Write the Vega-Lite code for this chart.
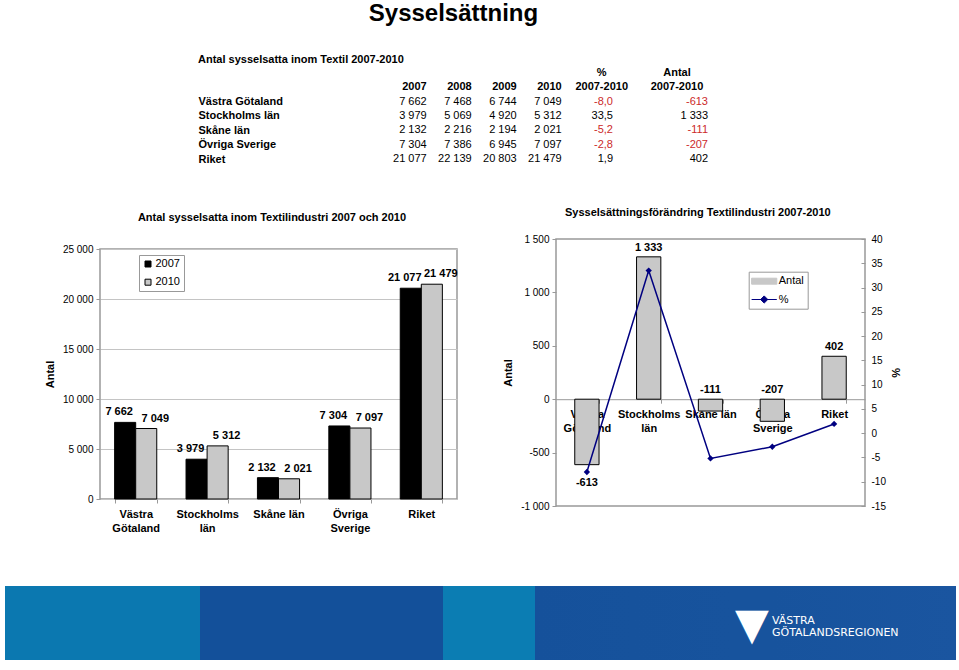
{
  "$schema": "https://vega.github.io/schema/vega-lite/v6.json",
  "background": "white",
  "padding": {"left": 5, "top": 2, "right": 0, "bottom": 0},
  "config": {
    "font": "Liberation Sans",
    "locale": {"number": {"decimal": ",", "thousands": "\u00a0", "grouping": [3], "currency": ["", " kr"], "minus": "-"}},
    "view": {"stroke": null},
    "axis": {"labelColor": "black", "titleColor": "black", "labelFont": "Liberation Sans", "titleFont": "Liberation Sans", "domainColor": "#999999", "tickColor": "#999999", "gridColor": "#c4c4c4"},
    "legend": {"labelColor": "black", "labelFont": "Liberation Sans"},
    "title": {"color": "black", "font": "Liberation Sans"}
  },
  "datasets": {
    "regions": [
      {"region": "Västra Götaland", "2007": 7662, "2008": 7468, "2009": 6744, "2010": 7049, "pct": -8.0, "antal": -613},
      {"region": "Stockholms län", "2007": 3979, "2008": 5069, "2009": 4920, "2010": 5312, "pct": 33.5, "antal": 1333},
      {"region": "Skåne län", "2007": 2132, "2008": 2216, "2009": 2194, "2010": 2021, "pct": -5.2, "antal": -111},
      {"region": "Övriga Sverige", "2007": 7304, "2008": 7386, "2009": 6945, "2010": 7097, "pct": -2.8, "antal": -207},
      {"region": "Riket", "2007": 21077, "2008": 22139, "2009": 20803, "2010": 21479, "pct": 1.9, "antal": 402}
    ]
  },
  "title": {"text": "Sysselsättning", "fontSize": 24, "fontWeight": "bold", "anchor": "middle", "dx": -27, "baseline": "alphabetic", "offset": 9},
  "columns": 1,
  "align": "none",
  "spacing": 5,
  "resolve": {"scale": {"fill": "independent", "color": "independent"}, "legend": {"fill": "independent", "color": "independent"}},
  "concat": [
    {
      "width": 951,
      "height": 134.7,
      "title": {"text": "Antal sysselsatta inom Textil 2007-2010", "anchor": "start", "frame": "group", "dx": 193, "offset": -9, "fontSize": 11, "fontWeight": "bold", "baseline": "alphabetic"},
      "layer": [
        {
          "data": {"name": "regions"},
          "transform": [{"fold": ["2007", "2008", "2009", "2010"], "as": ["key", "value"]}],
          "mark": {"type": "text", "align": "right", "baseline": "middle", "fontSize": 11},
          "encoding": {
            "x": {"field": "key", "type": "nominal", "scale": {"type": "point", "padding": 0, "domain": ["2007", "2008", "2009", "2010", "pct", "antal"], "range": [421.7, 646.7]}, "axis": null},
            "y": {"field": "region", "type": "nominal", "scale": {"type": "point", "padding": 0, "domain": ["h1", "h2", "Västra Götaland", "Stockholms län", "Skåne län", "Övriga Sverige", "Riket"], "range": [7.7, 94.1]},
              "axis": {"orient": "left", "offset": -193, "labelAlign": "left", "labelPadding": 0, "ticks": false, "domain": false, "title": null, "labelFontSize": 11, "labelFontWeight": "bold", "labelExpr": "datum.value == 'h1' || datum.value == 'h2' ? '' : datum.value"}},
            "text": {"field": "value", "type": "quantitative", "format": ",.0f"}
          }
        },
        {
          "data": {"name": "regions"},
          "mark": {"type": "text", "align": "right", "baseline": "middle", "fontSize": 11, "dx": 6.3},
          "encoding": {
            "x": {"datum": "pct", "type": "nominal"},
            "y": {"field": "region", "type": "nominal"},
            "text": {"field": "pct", "type": "quantitative", "format": ".1f"},
            "color": {"condition": {"test": "datum.pct < 0", "value": "#cc2a2a"}, "value": "black"}
          }
        },
        {
          "data": {"name": "regions"},
          "mark": {"type": "text", "align": "right", "baseline": "middle", "fontSize": 11, "dx": 56.3},
          "encoding": {
            "x": {"datum": "antal", "type": "nominal"},
            "y": {"field": "region", "type": "nominal"},
            "text": {"field": "antal", "type": "quantitative", "format": ",.0f"},
            "color": {"condition": {"test": "datum.antal < 0", "value": "#cc2a2a"}, "value": "black"}
          }
        },
        {
          "data": {"values": [{"row": "h2", "col": "2007", "label": "2007"}, {"row": "h2", "col": "2008", "label": "2008"}, {"row": "h2", "col": "2009", "label": "2009"}, {"row": "h2", "col": "2010", "label": "2010"}]},
          "mark": {"type": "text", "align": "right", "baseline": "middle", "fontSize": 11, "fontWeight": "bold"},
          "encoding": {
            "x": {"field": "col", "type": "nominal"},
            "y": {"field": "row", "type": "nominal"},
            "text": {"field": "label"}
          }
        },
        {
          "data": {"values": [{"row": "h1", "col": "pct", "label": "%"}, {"row": "h2", "col": "pct", "label": "2007-2010"}]},
          "mark": {"type": "text", "align": "center", "baseline": "middle", "fontSize": 11, "fontWeight": "bold", "dx": -5},
          "encoding": {
            "x": {"field": "col", "type": "nominal"},
            "y": {"field": "row", "type": "nominal"},
            "text": {"field": "label"}
          }
        },
        {
          "data": {"values": [{"row": "h1", "col": "antal", "label": "Antal"}, {"row": "h2", "col": "antal", "label": "2007-2010"}]},
          "mark": {"type": "text", "align": "center", "baseline": "middle", "fontSize": 11, "fontWeight": "bold", "dx": 25.3},
          "encoding": {
            "x": {"field": "col", "type": "nominal"},
            "y": {"field": "row", "type": "nominal"},
            "text": {"field": "label"}
          }
        }
      ]
    },
    {
      "align": "none",
      "spacing": 0,
      "resolve": {"scale": {"fill": "independent", "color": "independent"}, "legend": {"fill": "independent", "color": "independent"}},
      "concat": [
        {"width": 38, "height": 1, "data": {"values": []}, "mark": "point"},
        {
          "align": "none",
          "spacing": 42,
          "resolve": {"scale": {"fill": "independent", "color": "independent"}, "legend": {"fill": "independent", "color": "independent"}},
          "concat": [
            {
              "columns": 1,
              "align": "none",
              "spacing": 0,
              "resolve": {"scale": {"fill": "independent", "color": "independent"}, "legend": {"fill": "independent", "color": "independent"}},
              "concat": [
                {"width": 1, "height": 5.6, "data": {"values": []}, "mark": "point"},
                {
                  "width": 357,
                  "height": 250,
                  "view": {"stroke": "#999999", "strokeWidth": 1.5},
                  "title": {"text": "Antal sysselsatta inom Textilindustri 2007 och 2010", "fontSize": 11, "fontWeight": "bold", "anchor": "middle", "frame": "group", "dx": -6.5, "baseline": "alphabetic", "offset": 12},
                  "data": {"name": "regions"},
                  "transform": [{"fold": ["2007", "2010"], "as": ["year", "value"]}],
                  "encoding": {
                    "x": {"field": "region", "type": "nominal", "sort": null, "scale": {"paddingInner": 0.41, "paddingOuter": 0.205},
                      "axis": {"title": null, "labelAngle": 0, "labelFontSize": 11, "labelFontWeight": "bold", "labelPadding": 5, "labelLineHeight": 14, "tickBand": "extent", "tickSize": 4, "domain": false,
                        "labelExpr": "!datum.value ? '' : datum.value == 'Skåne län' ? datum.value : split(datum.value, ' ')"}},
                    "xOffset": {"field": "year", "type": "nominal"},
                    "y": {"field": "value", "type": "quantitative", "scale": {"domain": [0, 25000], "nice": false},
                      "axis": {"values": [0, 5000, 10000, 15000, 20000, 25000], "format": ",.0f", "labelFontSize": 10, "labelPadding": 3, "tickSize": 4, "domain": false, "grid": true, "title": "Antal", "titleFontSize": 11, "titleFontWeight": "bold", "titlePadding": 7}}
                  },
                  "layer": [
                    {
                      "mark": {"type": "bar", "stroke": "black", "strokeWidth": 1},
                      "encoding": {
                        "fill": {"field": "year", "type": "nominal", "scale": {"domain": ["2007", "2010"], "range": ["black", "#c8c8c8"]},
                          "legend": {"title": null, "orient": "none", "legendX": 39, "legendY": 6, "strokeColor": "#999999", "fillColor": "white", "padding": 3.5, "symbolType": "square", "symbolSize": 36, "symbolStrokeColor": "black", "symbolStrokeWidth": 1, "labelFontSize": 11, "rowPadding": 6.2, "labelOffset": 2,
                            "encode": {"symbols": {"update": {"stroke": {"value": "black"}, "strokeWidth": {"value": 1}}}}}}
                      }
                    },
                    {
                      "transform": [{"filter": "datum.year == '2007'"}],
                      "mark": {"type": "text", "baseline": "bottom", "dy": -5, "dx": -6, "fontSize": 11, "fontWeight": "bold"},
                      "encoding": {"text": {"field": "value", "type": "quantitative", "format": ",.0f"}}
                    },
                    {
                      "transform": [{"filter": "datum.year == '2010'"}],
                      "mark": {"type": "text", "baseline": "bottom", "dy": -5, "dx": 9, "fontSize": 11, "fontWeight": "bold"},
                      "encoding": {"text": {"field": "value", "type": "quantitative", "format": ",.0f"}}
                    }
                  ]
                }
              ]
            },
            {
              "columns": 1,
              "align": "none",
              "spacing": 0,
              "resolve": {"scale": {"fill": "independent", "color": "independent"}, "legend": {"fill": "independent", "color": "independent"}},
              "concat": [
                {"width": 1, "height": 1, "data": {"values": []}, "mark": "point"},
                {
                  "width": 309,
                  "height": 267,
                  "view": {"stroke": "#999999", "strokeWidth": 1.5},
                  "title": {"text": "Sysselsättningsförändring Textilindustri 2007-2010", "fontSize": 11, "fontWeight": "bold", "anchor": "middle", "frame": "group", "dx": -12.7, "baseline": "alphabetic", "offset": 6.6},
                  "data": {"name": "regions"},
                  "encoding": {
                    "x": {"field": "region", "type": "nominal", "sort": null, "scale": {"paddingInner": 0.607, "paddingOuter": 0.3035},
                      "axis": {"title": null, "offset": -106.8, "labelAngle": 0, "labelFontSize": 11, "labelFontWeight": "bold", "labelPadding": 5, "labelLineHeight": 14, "tickBand": "extent", "tickSize": 4, "domain": true, "domainColor": "#999999",
                        "labelExpr": "!datum.value ? '' : datum.value == 'Skåne län' ? datum.value : split(datum.value, ' ')"}}
                  },
                  "layer": [
                    {
                      "mark": {"type": "bar", "stroke": "black", "strokeWidth": 1},
                      "encoding": {
                        "y": {"field": "antal", "type": "quantitative", "scale": {"domain": [-1000, 1500], "nice": false},
                          "axis": {"values": [-1000, -500, 0, 500, 1000, 1500], "format": ",.0f", "labelFontSize": 10, "labelPadding": 3, "tickSize": 4, "domain": false, "grid": false, "title": "Antal", "titleFontSize": 11, "titleFontWeight": "bold", "titlePadding": 7}},
                        "color": {"datum": "Antal", "type": "nominal", "scale": {"domain": ["Antal", "%"], "range": ["#c8c8c8", "#000080"]},
                          "legend": {"title": null, "orient": "none", "legendX": 192.7, "legendY": 32.7, "strokeColor": "#999999", "fillColor": "white", "padding": 3, "symbolSize": 144, "symbolOffset": 6, "labelOffset": 8, "labelFontSize": 11, "rowPadding": 6.3,
                            "encode": {"symbols": {"update": {
                              "shape": {"signal": "datum.value === 'Antal' ? 'M-2.1,-0.5H2.1V0.5H-2.1Z' : 'M-2.1,0H2.1M-0.6,0L0,-0.6L0.6,0L0,0.6Z'"},
                              "fill": {"signal": "datum.value === 'Antal' ? '#c8c8c8' : '#000080'"},
                              "stroke": {"signal": "datum.value === 'Antal' ? 'black' : '#000080'"},
                              "strokeWidth": {"value": 1}, "opacity": {"value": 1}, "fillOpacity": {"value": 1}, "strokeOpacity": {"value": 1}}}}}}
                      }
                    },
                    {
                      "transform": [{"filter": "datum.antal > 0"}],
                      "mark": {"type": "text", "baseline": "bottom", "dy": -4, "fontSize": 11, "fontWeight": "bold"},
                      "encoding": {
                        "y": {"field": "antal", "type": "quantitative", "scale": {"domain": [-1000, 1500], "nice": false}, "axis": null},
                        "text": {"field": "antal", "type": "quantitative", "format": ",.0f"}
                      }
                    },
                    {
                      "transform": [{"filter": "datum.antal < 0 && datum.antal > -300"}],
                      "mark": {"type": "text", "baseline": "bottom", "dy": -4, "fontSize": 11, "fontWeight": "bold"},
                      "encoding": {
                        "y": {"datum": 0, "type": "quantitative", "scale": {"domain": [-1000, 1500], "nice": false}, "axis": null},
                        "text": {"field": "antal", "type": "quantitative", "format": ",.0f"}
                      }
                    },
                    {
                      "transform": [{"filter": "datum.antal <= -300"}],
                      "mark": {"type": "text", "baseline": "top", "dy": 12, "fontSize": 11, "fontWeight": "bold"},
                      "encoding": {
                        "y": {"field": "antal", "type": "quantitative", "scale": {"domain": [-1000, 1500], "nice": false}, "axis": null},
                        "text": {"field": "antal", "type": "quantitative", "format": ",.0f"}
                      }
                    },
                    {
                      "mark": {"type": "line", "strokeWidth": 1.5, "point": {"shape": "diamond", "filled": true, "size": 40}},
                      "encoding": {
                        "y": {"field": "pct", "type": "quantitative", "scale": {"domain": [-15, 40], "nice": false},
                          "axis": {"orient": "right", "values": [-15, -10, -5, 0, 5, 10, 15, 20, 25, 30, 35, 40], "labelFontSize": 10, "tickSize": -4, "labelPadding": 10, "domain": false, "grid": false, "title": "%", "titleFontSize": 11, "titleFontWeight": "bold", "titlePadding": 4}},
                        "color": {"datum": "%", "type": "nominal",
                          "legend": {"title": null, "orient": "none", "legendX": 192.7, "legendY": 32.7, "strokeColor": "#999999", "fillColor": "white", "padding": 3, "symbolSize": 144, "symbolOffset": 6, "labelOffset": 8, "labelFontSize": 11, "rowPadding": 6.3,
                            "encode": {"symbols": {"update": {
                              "shape": {"signal": "datum.value === 'Antal' ? 'M-2.1,-0.5H2.1V0.5H-2.1Z' : 'M-2.1,0H2.1M-0.6,0L0,-0.6L0.6,0L0,0.6Z'"},
                              "fill": {"signal": "datum.value === 'Antal' ? '#c8c8c8' : '#000080'"},
                              "stroke": {"signal": "datum.value === 'Antal' ? 'black' : '#000080'"},
                              "strokeWidth": {"value": 1}, "opacity": {"value": 1}, "fillOpacity": {"value": 1}, "strokeOpacity": {"value": 1}}}}}}
                      }
                    }
                  ],
                  "resolve": {"scale": {"y": "independent"}}
                }
              ]
            }
          ]
        }
      ]
    },
    {"width": 1, "height": 42, "data": {"values": []}, "mark": "point"},
    {
      "align": "none",
      "spacing": 0,
      "concat": [
        {
          "width": 727,
          "height": 74,
          "data": {"values": [{"part": "band"}]},
          "mark": {"type": "rect", "color": {"gradient": "linear", "x1": 0, "x2": 1, "y1": 0, "y2": 0, "stops": [
            {"offset": 0, "color": "#0b78b0"}, {"offset": 0.268, "color": "#0b78b0"}, {"offset": 0.268, "color": "#13509a"},
            {"offset": 0.6025, "color": "#13509a"}, {"offset": 0.6025, "color": "#0b7db3"}, {"offset": 0.729, "color": "#0b7db3"},
            {"offset": 0.729, "color": "#15519b"}, {"offset": 1, "color": "#17539d"}]}}
        },
        {
          "width": 40,
          "height": 74,
          "title": {"text": "▼", "anchor": "middle", "frame": "group", "dy": 97, "offset": 0, "baseline": "alphabetic", "fontSize": 44, "fontWeight": "normal", "color": "white", "font": "DejaVu Sans"},
          "data": {"values": [{"part": "logo"}]},
          "mark": {"type": "rect", "color": "#17539d"}
        },
        {
          "width": 184,
          "height": 74,
          "title": {"text": ["VÄSTRA", "GÖTALANDSREGIONEN"], "anchor": "start", "frame": "group", "align": "left", "dx": 0, "dy": 60.7, "offset": 0, "baseline": "alphabetic", "fontSize": 11, "fontWeight": "normal", "color": "white", "lineHeight": 11.6, "font": "DejaVu Sans"},
          "data": {"values": [{"part": "name"}]},
          "mark": {"type": "rect", "color": {"gradient": "linear", "x1": 0, "x2": 1, "y1": 0, "y2": 0, "stops": [{"offset": 0, "color": "#17539d"}, {"offset": 1, "color": "#1a55a0"}]}}
        }
      ]
    }
  ]
}
